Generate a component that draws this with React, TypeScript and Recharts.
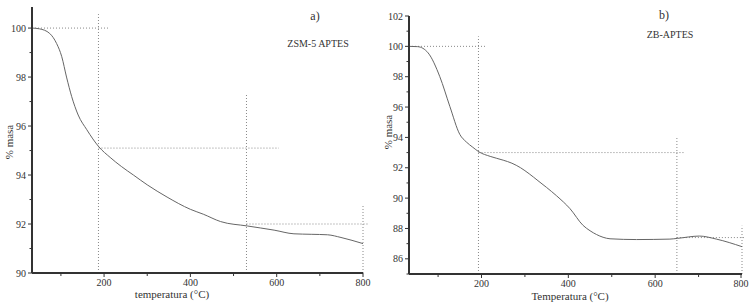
import React from "react";
import { LineChart, Line, XAxis, YAxis, ReferenceLine } from "recharts";

// a) ZSM-5 APTES
const tempA = [33, 50, 74, 90, 102, 113, 125, 140, 160, 188, 214, 240, 268, 300, 346, 400, 430, 470, 532, 594, 640, 680, 718, 749, 800];
const massA = [100, 99.97, 99.78, 99.37, 98.83, 98.0, 97.2, 96.45, 95.85, 95.15, 94.72, 94.35, 94.0, 93.6, 93.1, 92.6, 92.4, 92.1, 91.92, 91.75, 91.6, 91.58, 91.56, 91.45, 91.2];

// b) ZB-APTES
const tempB = [33, 53, 77, 104, 127, 150, 165, 180, 194, 220, 250, 270, 290, 310, 330, 350, 373, 404, 434, 450, 465, 480, 496, 557, 634, 652, 702, 741, 800];
const massB = [100, 99.98, 99.57, 98.0, 96.05, 94.2, 93.7, 93.35, 93.05, 92.75, 92.5, 92.3, 92.0, 91.6, 91.15, 90.7, 90.15, 89.3, 88.2, 87.85, 87.6, 87.42, 87.32, 87.27, 87.3, 87.35, 87.5, 87.3, 86.8];

const xTicks = [100, 200, 300, 400, 500, 600, 700, 800];
const yTicksA = [90, 91, 92, 93, 94, 95, 96, 97, 98, 99, 100];
const yTicksB = [85, 86, 87, 88, 89, 90, 91, 92, 93, 94, 95, 96, 97, 98, 99, 100, 101, 102];

// dotted guide segments: [x1, y1, x2, y2]
const guidesA = [
  [187, 90, 187, 100.57],
  [33, 100, 210, 100],
  [530, 90, 530, 97.27],
  [187, 95.1, 605, 95.1],
  [800, 90, 800, 92.78],
  [530, 92, 812, 92],
];
const guidesB = [
  [193, 85, 193, 100.66],
  [33, 100, 210, 100],
  [650, 85, 650, 94.0],
  [193, 93.0, 667, 93.0],
  [800, 85, 800, 88.18],
  [650, 87.4, 808, 87.4],
];

const FONT = "'Liberation Serif', 'Times New Roman', serif";
const INK = "#333";
const TS = 0;
const TM = 3;

function YTick(props: any) {
  const { x, y, payload } = props;
  const ax = x + TS + TM;
  const major = payload.value % 2 === 0;
  return (
    <g>
      <line x1={ax - (major ? 4 : 2.5)} x2={ax} y1={y} y2={y} stroke={INK} strokeWidth={1} />
      {major && (
        <text x={ax - 6} y={y} dy="0.35em" textAnchor="end" fontSize={10} fontFamily={FONT} fill={INK}>
          {payload.value}
        </text>
      )}
    </g>
  );
}

function XTick(props: any) {
  const { x, y, payload } = props;
  const ay = y - TS - TM;
  const major = payload.value % 200 === 0;
  return (
    <g>
      <line x1={x} x2={x} y1={ay} y2={ay + (major ? 4 : 3)} stroke={INK} strokeWidth={1} />
      {major && (
        <text x={x} y={ay + 5} dy="0.75em" textAnchor="middle" fontSize={10} fontFamily={FONT} fill={INK}>
          {payload.value}
        </text>
      )}
    </g>
  );
}

function Panel({ temps, masses, yDomain, yTicks, guides, width, height, yWidth, margin }: any) {
  const data = temps.map((t: number, i: number) => ({ t, m: masses[i] }));
  return (
    <LineChart width={width} height={height} data={data} margin={margin}>
      <XAxis
        dataKey="t"
        type="number"
        domain={[33, 800]}
        ticks={xTicks}
        allowDataOverflow
        tickSize={TS}
        tickMargin={TM}
        tickLine={false}
        tick={<XTick />}
        height={20}
        stroke={INK}
        strokeWidth={2}
      />
      <YAxis
        type="number"
        domain={yDomain}
        ticks={yTicks}
        allowDataOverflow
        tickSize={TS}
        tickMargin={TM}
        tickLine={false}
        tick={<YTick />}
        width={yWidth}
        stroke={INK}
        strokeWidth={2}
        interval={0}
      />
      {guides.map((g: number[], i: number) => (
        <ReferenceLine
          key={i}
          segment={[{ x: g[0], y: g[1] }, { x: g[2], y: g[3] }]}
          stroke="#888"
          strokeDasharray="1 2"
          strokeWidth={1}
          ifOverflow="visible"
        />
      ))}
      <Line
        type="monotone"
        dataKey="m"
        stroke="#666"
        strokeWidth={1}
        dot={false}
        isAnimationActive={false}
      />
    </LineChart>
  );
}

const txt = (extra: React.CSSProperties): React.CSSProperties => ({
  position: "absolute",
  fontFamily: FONT,
  color: INK,
  whiteSpace: "nowrap",
  lineHeight: 1,
  ...extra,
});

export default function App() {
  return (
    <div style={{ position: "absolute", left: 0, top: 0, width: 753, height: 306, background: "#fff", overflow: "hidden" }}>
      <div style={{ position: "absolute", left: 0, top: 0 }}>
        <Panel
          temps={tempA}
          masses={massA}
          yDomain={[90, 100.86]}
          yTicks={yTicksA}
          guides={guidesA}
          width={375}
          height={306}
          yWidth={32}
          margin={{ top: 7, right: 12, bottom: 13, left: 0 }}
        />
      </div>
      <div style={{ position: "absolute", left: 375, top: 0 }}>
        <Panel
          temps={tempB}
          masses={massB}
          yDomain={[85, 102]}
          yTicks={yTicksB}
          guides={guidesB}
          width={378}
          height={306}
          yWidth={34}
          margin={{ top: 16, right: 11, bottom: 12, left: 0 }}
        />
      </div>

      <div style={txt({ left: 315, top: 16, fontSize: 12, transform: "translate(-50%,-50%)" })}>a)</div>
      <div style={txt({ left: 318, top: 44, fontSize: 10, transform: "translate(-50%,-50%)" })}>ZSM-5 APTES</div>
      <div style={txt({ left: 664, top: 15, fontSize: 12, transform: "translate(-50%,-50%)" })}>b)</div>
      <div style={txt({ left: 670, top: 35, fontSize: 10, transform: "translate(-50%,-50%)" })}>ZB-APTES</div>

      <div style={txt({ left: 172, top: 294, fontSize: 11, transform: "translate(-50%,-50%)" })}>temperatura (°C)</div>
      <div style={txt({ left: 570, top: 296, fontSize: 11, transform: "translate(-50%,-50%)" })}>Temperatura (°C)</div>

      <div style={txt({ left: 9, top: 142, fontSize: 11, transform: "translate(-50%,-50%) rotate(-90deg)" })}>% masa</div>
      <div style={txt({ left: 388, top: 132, fontSize: 11, transform: "translate(-50%,-50%) rotate(-90deg)" })}>% masa</div>
    </div>
  );
}
